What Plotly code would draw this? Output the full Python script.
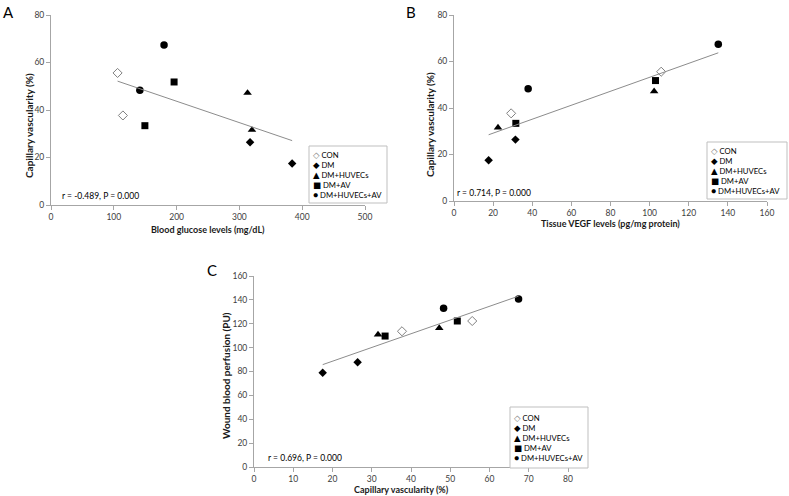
import numpy as np
import plotly.graph_objects as go

# ---------------- data ----------------
groups = ["CON", "DM", "DM+HUVECs", "DM+AV", "DM+HUVECs+AV"]

capillary = {  # capillary vascularity (%)
    "CON": [55.6, 37.7],
    "DM": [26.4, 17.5],
    "DM+HUVECs": [47.2, 31.6],
    "DM+AV": [51.8, 33.4],
    "DM+HUVECs+AV": [67.4, 48.3],
}
glucose = {  # blood glucose (mg/dL)
    "CON": [106, 114.5],
    "DM": [317, 384],
    "DM+HUVECs": [313, 320],
    "DM+AV": [196, 149.5],
    "DM+HUVECs+AV": [180, 141.5],
}
vegf = {  # tissue VEGF (pg/mg protein)
    "CON": [105.9, 29.2],
    "DM": [31.4, 17.7],
    "DM+HUVECs": [102.3, 22.5],
    "DM+AV": [103.0, 31.6],
    "DM+HUVECs+AV": [135.1, 37.9],
}
perfusion = {  # wound blood perfusion (PU)
    "CON": [122.3, 113.7],
    "DM": [87.7, 79.0],
    "DM+HUVECs": [116.4, 110.9],
    "DM+AV": [122.3, 109.7],
    "DM+HUVECs+AV": [140.7, 132.9],
}
stats_text = ["r = -0.489, P = 0.000", "r = 0.714, P = 0.000", "r = 0.696, P = 0.000"]
legend_symbols = ["\u25C7", "\u25C6", "\u25B2", "\u25A0", "\u25CF"]

# ---------------- styles ----------------
FONT = "Lato, DejaVu Sans, sans-serif"
AXIS_COL = "#a6a6a6"
TICK_COL = "#404040"
marker_style = {
    "CON": dict(symbol="diamond-open", size=7, color="#808080", line=dict(width=1, color="#808080")),
    "DM": dict(symbol="diamond", size=6.5, color="black"),
    "DM+HUVECs": dict(symbol="triangle-up", size=7.5, color="black"),
    "DM+AV": dict(symbol="square", size=7, color="black"),
    "DM+HUVECs+AV": dict(symbol="circle", size=7.5, color="black"),
}

W, H = 789, 496
panels = [
    (glucose, capillary, "x", "y"),
    (vegf, capillary, "x2", "y2"),
    (capillary, perfusion, "x3", "y3"),
]

fig = go.Figure()
for xd, yd, xa, ya in panels:
    for g in groups:
        fig.add_trace(go.Scatter(
            x=xd[g], y=yd[g], mode="markers", name=g, showlegend=False,
            marker=marker_style[g], xaxis=xa, yaxis=ya, cliponaxis=False,
        ))
    allx = np.concatenate([xd[g] for g in groups])
    ally = np.concatenate([yd[g] for g in groups])
    k, b = np.polyfit(allx, ally, 1)
    xs = np.array([allx.min(), allx.max()])
    fig.add_trace(go.Scatter(
        x=xs, y=k * xs + b, mode="lines", showlegend=False,
        line=dict(color="#8c8c8c", width=1), xaxis=xa, yaxis=ya,
    ))


def px_x(p):
    return p / W


def px_y(p):
    return 1 - p / H


def axis(domain, rng, dtick, anchor):
    return dict(
        domain=domain, range=rng, dtick=dtick, anchor=anchor, automargin=False,
        showgrid=False, zeroline=False, showline=True, linecolor=AXIS_COL, linewidth=1,
        ticks="outside", ticklen=4, tickcolor=AXIS_COL,
        tickfont=dict(family=FONT, size=8.5, color=TICK_COL),
        fixedrange=True,
    )


layout_axes = dict(
    xaxis=axis([px_x(51), px_x(365)], [0, 500], 100, "y"),
    yaxis=axis([px_y(205), px_y(15)], [0, 80], 20, "x"),
    xaxis2=axis([px_x(454), px_x(767)], [0, 160], 20, "y2"),
    yaxis2=axis([px_y(201), px_y(15)], [0, 80], 20, "x2"),
    xaxis3=axis([px_x(254), px_x(568)], [0, 80], 10, "y3"),
    yaxis3=axis([px_y(467), px_y(276)], [0, 160], 20, "x3"),
)

annotations = []
shapes = []

# axis titles
for txt, cx, cy in [("Blood glucose levels (mg/dL)", 208, 229),
                    ("Tissue VEGF levels (pg/mg protein)", 610, 223),
                    ("Capillary vascularity (%)", 401, 489)]:
    annotations.append(dict(text=f"<b>{txt}</b>", x=px_x(cx), y=px_y(cy), xref="paper", yref="paper",
                            xanchor="center", yanchor="middle", showarrow=False,
                            font=dict(family=FONT, size=9, color="#1a1a1a")))
for txt, cx, cy in [("Capillary vascularity (%)", 29, 126),
                    ("Capillary vascularity (%)", 430, 125),
                    ("Wound blood perfusion (PU)", 226, 376)]:
    annotations.append(dict(text=f"<b>{txt}</b>", x=px_x(cx), y=px_y(cy), xref="paper", yref="paper",
                            xanchor="center", yanchor="middle", showarrow=False, textangle=-90,
                            font=dict(family=FONT, size=10, color="#1a1a1a")))

# panel letters
for letter, lx, ly in [("A", 1, 1), ("B", 404, 1), ("C", 205, 259)]:
    annotations.append(dict(text=letter, x=px_x(lx), y=px_y(ly), xref="paper", yref="paper",
                            xanchor="left", yanchor="top", showarrow=False,
                            font=dict(family=FONT, size=15, color="black")))

# correlation text
for txt, tx, ty in zip(stats_text, [60, 455, 266], [196, 193, 458]):
    annotations.append(dict(text=txt, x=px_x(tx), y=px_y(ty), xref="paper", yref="paper",
                            xanchor="left", yanchor="middle", showarrow=False,
                            font=dict(family=FONT, size=8.5, color="black")))

# legend boxes (one per panel), entries as one multi-line text block
legend_lines = []
for g, sym in zip(groups, legend_symbols):
    col = "#808080" if g == "CON" else "black"
    legend_lines.append(f"<span style='color:{col};font-size:8.5px'>{sym}</span> {g}")
legend_text = "<br>".join(legend_lines)

for bx0, by0, bx1, by1 in [(309, 146, 387, 203), (707, 142, 787, 199), (510, 407, 588, 468)]:
    shapes.append(dict(type="rect", xref="paper", yref="paper",
                       x0=px_x(bx0), x1=px_x(bx1), y0=px_y(by1), y1=px_y(by0),
                       line=dict(color="#bfbfbf", width=1), fillcolor="white", layer="above"))
    annotations.append(dict(text=legend_text, align="left",
                            x=px_x(bx0 + 2), y=px_y((by0 + by1) / 2), xref="paper", yref="paper",
                            xanchor="left", yanchor="middle", showarrow=False,
                            font=dict(family=FONT, size=7.7, color="black")))

fig.update_layout(
    width=W, height=H, margin=dict(l=0, r=0, t=0, b=0),
    paper_bgcolor="white", plot_bgcolor="white",
    showlegend=False, annotations=annotations, shapes=shapes,
    **layout_axes,
)

fig.write_html("out.html", config={"displayModeBar": False},
               post_script="document.body.style.margin='0px';document.body.style.overflow='hidden';")
